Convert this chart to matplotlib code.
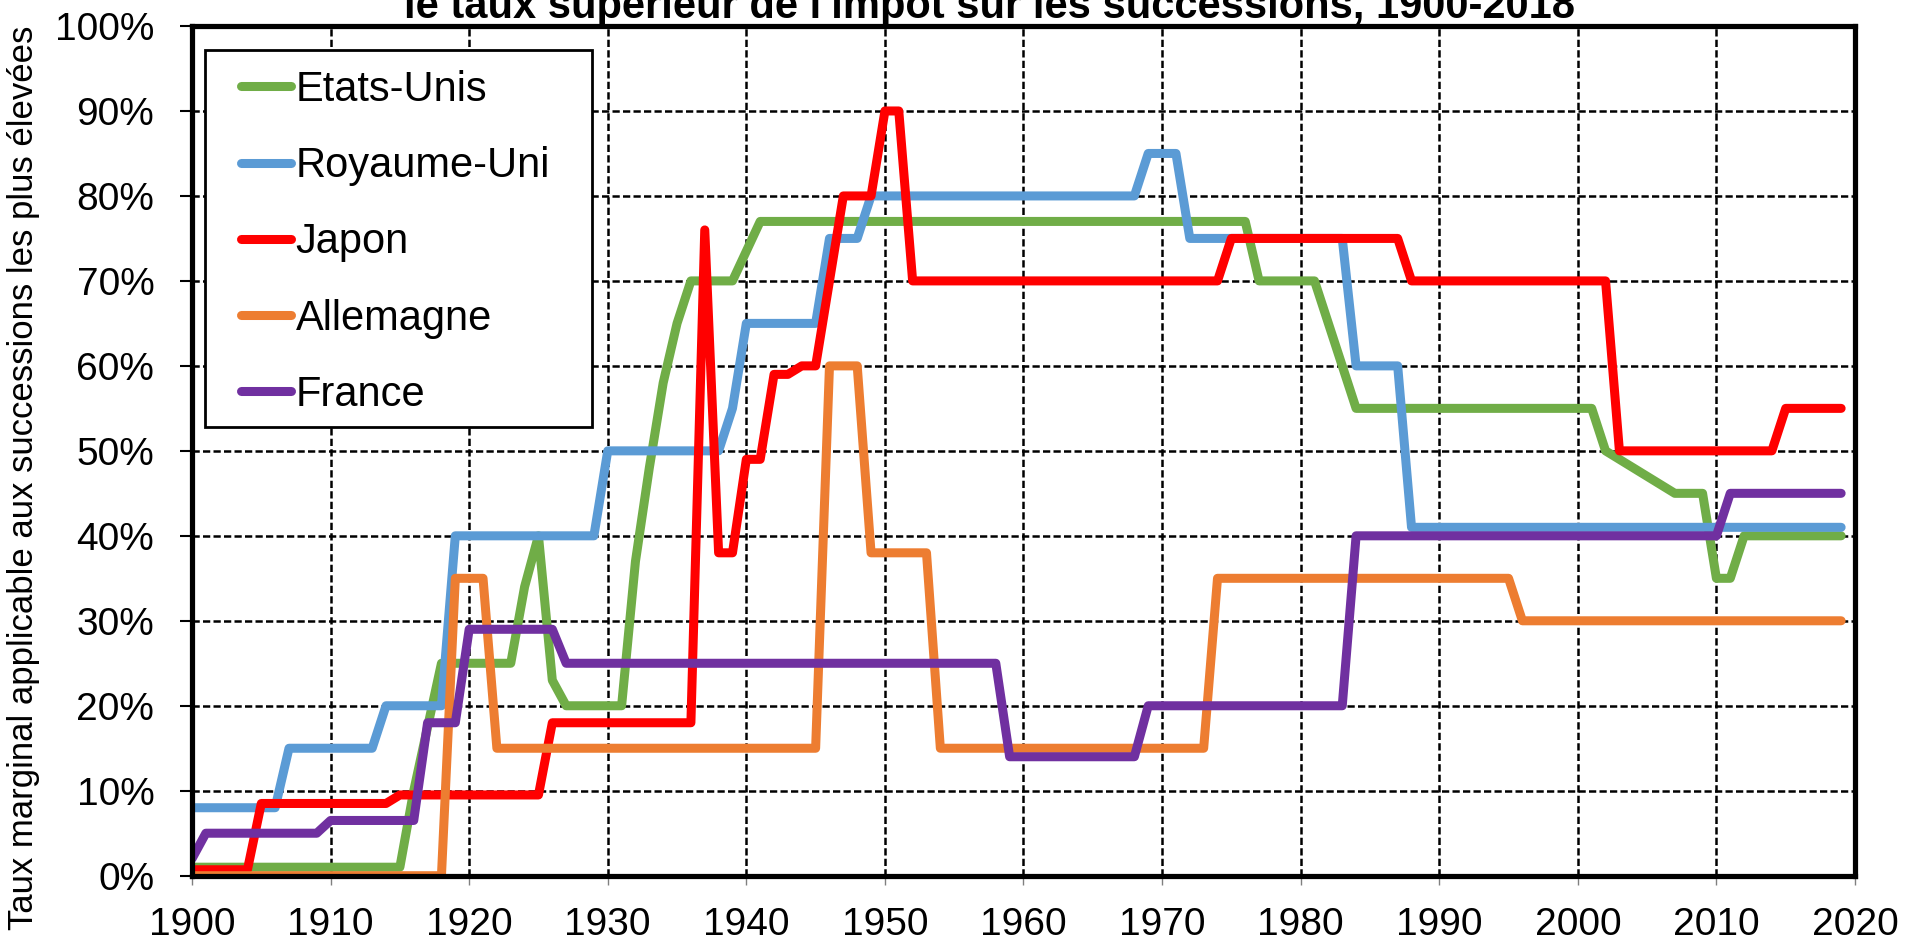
import matplotlib
matplotlib.use("Agg")
import matplotlib.pyplot as plt
from matplotlib.patches import Rectangle
from matplotlib.ticker import FuncFormatter, MultipleLocator

plt.rcParams['font.family'] = ['Liberation Sans', 'DejaVu Sans']

# ---- data (breakpoints: year, top marginal rate in %) ----
us_years = [1900, 1915, 1916, 1917, 1918, 1923, 1924, 1925, 1926, 1927, 1931, 1932, 1933, 1934,
            1935, 1936, 1939, 1941, 1976, 1977, 1981, 1984, 2001, 2002, 2007, 2009, 2010, 2011,
            2012, 2019]
us_vals = [1, 1, 10, 17.5, 25, 25, 34, 40, 23, 20, 20, 37, 48, 58,
           65, 70, 70, 77, 77, 70, 70, 55, 55, 50, 45, 45, 35, 35,
           40, 40]

uk_years = [1900, 1906, 1907, 1913, 1914, 1918, 1919, 1929, 1930, 1938, 1939, 1940, 1945, 1946,
            1948, 1949, 1968, 1969, 1971, 1972, 1983, 1984, 1987, 1988, 2019]
uk_vals = [8, 8, 15, 15, 20, 20, 40, 40, 50, 50, 55, 65, 65, 75,
           75, 80, 80, 85, 85, 75, 75, 60, 60, 41, 41]

jp_years = [1900, 1904, 1905, 1914, 1915, 1925, 1926, 1936, 1937, 1938, 1939, 1940, 1941, 1942,
            1943, 1944, 1945, 1947, 1949, 1950, 1951, 1952, 1974, 1975, 1987, 1988, 2002, 2003,
            2014, 2015, 2019]
jp_vals = [0.7, 0.7, 8.5, 8.5, 9.5, 9.5, 18, 18, 76, 38, 38, 49, 49, 59,
           59, 60, 60, 80, 80, 90, 90, 70, 70, 75, 75, 70, 70, 50,
           50, 55, 55]

de_years = [1900, 1918, 1919, 1921, 1922, 1945, 1946, 1948, 1949, 1953, 1954, 1973, 1974, 1995,
            1996, 2019]
de_vals = [0, 0, 35, 35, 15, 15, 60, 60, 38, 38, 15, 15, 35, 35,
           30, 30]

fr_years = [1900, 1901, 1909, 1910, 1916, 1917, 1919, 1920, 1926, 1927, 1958, 1959, 1968, 1969,
            1983, 1984, 2010, 2011, 2019]
fr_vals = [2, 5, 5, 6.5, 6.5, 18, 18, 29, 29, 25, 25, 14, 14, 20,
           20, 40, 40, 45, 45]

series_names = ['Etats-Unis', 'Royaume-Uni', 'Japon', 'Allemagne', 'France']
series_colors = ['#70AD47', '#5B9BD5', '#FF0000', '#ED7D31', '#7030A0']
series_data = [(us_years, us_vals), (uk_years, uk_vals), (jp_years, jp_vals),
               (de_years, de_vals), (fr_years, fr_vals)]

title_text = "le taux supérieur de l'impôt sur les successions, 1900-2018"
ylabel_text = "Taux marginal applicable aux successions les plus élevées"

# ---- figure ----
W, H = 1921, 942
fig = plt.figure(figsize=(W / 100, H / 100), dpi=100)
ax_l, ax_r, ax_t, ax_b = 192, 1855, 26, 875.7
ax = fig.add_axes([ax_l / W, (H - ax_b) / H, (ax_r - ax_l) / W, (ax_b - ax_t) / H])

for (yrs, vals), name, col in zip(series_data, series_names, series_colors):
    ax.plot(yrs, vals, color=col, lw=6.5, label=name,
            solid_capstyle='round', solid_joinstyle='round', zorder=3)

ax.set_xlim(1900, 2020)
ax.set_ylim(0, 100)
ax.xaxis.set_major_locator(MultipleLocator(10))
ax.yaxis.set_major_locator(MultipleLocator(10))
ax.yaxis.set_major_formatter(FuncFormatter(lambda v, p: f"{v:.0f}%"))

ax.grid(True, color='black', lw=1.8, linestyle=(0, (2.9, 1.3)), zorder=1)
ax.set_axisbelow(True)

for s in ax.spines.values():
    s.set_linewidth(3.75)
    s.set_color('black')
    s.set_zorder(6)

ax.tick_params(axis='y', direction='out', length=8.6, width=1.5, color='black',
               labelsize=28, pad=18.5)
ax.tick_params(axis='x', direction='out', length=6.5, width=1.0, color='#808080',
               labelsize=28, pad=16)

# legend frame (drawn separately for exact padding)
bx0, bx1, by_top, by_bot = 205, 592, 50, 427.3
ax.add_patch(Rectangle(((bx0 - ax_l) / (ax_r - ax_l), (ax_b - by_bot) / (ax_b - ax_t)),
                       (bx1 - bx0) / (ax_r - ax_l), (by_bot - by_top) / (ax_b - ax_t),
                       transform=ax.transAxes, facecolor='white', edgecolor='black',
                       lw=2.0, zorder=4.5, clip_on=False))
leg = ax.legend(loc='upper left', bbox_to_anchor=(241 / W, 1 - 70 / H),
                bbox_transform=fig.transFigure, frameon=False, fontsize=30,
                handlelength=1.19, handletextpad=0.12, labelspacing=0.87,
                borderpad=0, borderaxespad=0)
leg.set_zorder(5)

fig.text(990 / W, 1 - 18 / H, title_text, ha='center', va='baseline',
         fontsize=30, fontweight='bold')
fig.text(24 / W, 1 - 478 / H, ylabel_text, rotation=90, ha='center', va='center',
         fontsize=25)

fig.savefig('out.png', dpi=100)
